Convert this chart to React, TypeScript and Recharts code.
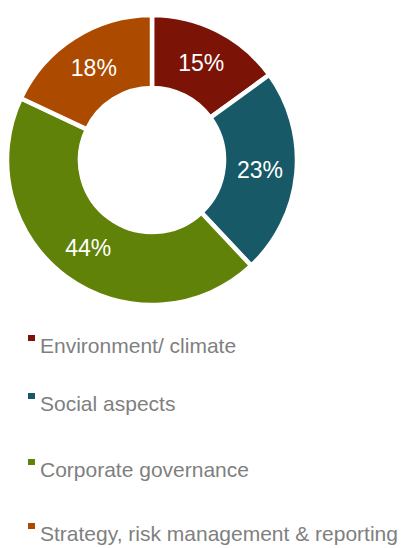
import React from 'react'
import { PieChart, Pie, Cell, Legend } from 'recharts'

const CATEGORIES = ['Environment/ climate', 'Social aspects', 'Corporate governance', 'Strategy, risk management & reporting']
const SHARES = [15, 23, 44, 18]
const COLORS = ['#7b1307', '#175966', '#618208', '#ac4a00']

// baselines of legend rows (page coords), spacing in source is uneven
const ROW_BASELINES = [353, 411, 477, 541]

const data = CATEGORIES.map((name, i) => ({ name, value: SHARES[i] }))

const RAD = Math.PI / 180

const renderLabel = (p: any) => {
  const r = (p.innerRadius + p.outerRadius) / 2
  const x = p.cx + r * Math.cos(-p.midAngle * RAD)
  const y = p.cy + r * Math.sin(-p.midAngle * RAD)
  return (
    <text x={x} y={y} fill="#ffffff" fontSize={23} textAnchor="middle" dominantBaseline="central"
      fontFamily="'Liberation Sans', Arial, sans-serif">
      {`${p.value}%`}
    </text>
  )
}

// legend drawn in data order (recharts would sort the payload)
const renderLegend = () => (
  <svg width={406} height={228} style={{ display: 'block' }}>
    {CATEGORIES.map((name, i) => {
      const base = ROW_BASELINES[i] - 320
      return (
        <g key={name}>
          <rect x={28} y={base - 18} width={7} height={6} fill={COLORS[i]} />
          <text x={40} y={base} fontSize={21} fill="#7f7f7f" fontFamily="'Liberation Sans', Arial, sans-serif">
            {name}
          </text>
        </g>
      )
    })}
  </svg>
)

export default function App() {
  return (
    <div style={{ margin: '-8px 0 0 -8px', width: 406, height: 548, background: '#fff' }}>
      <PieChart width={406} height={548} margin={{ top: 0, right: 0, bottom: 0, left: 0 }}>
        <Pie
          data={data}
          dataKey="value"
          nameKey="name"
          cx={152}
          cy={160}
          innerRadius={72}
          outerRadius={145}
          startAngle={90}
          endAngle={-270}
          stroke="#ffffff"
          strokeWidth={4.5}
          label={renderLabel}
          labelLine={false}
          isAnimationActive={false}
        >
          {data.map((d, i) => (
            <Cell key={d.name} fill={COLORS[i]} />
          ))}
        </Pie>
        <Legend
          content={renderLegend}
          wrapperStyle={{ position: 'absolute', left: 0, top: 320, width: 406, height: 228 }}
        />
      </PieChart>
    </div>
  )
}
